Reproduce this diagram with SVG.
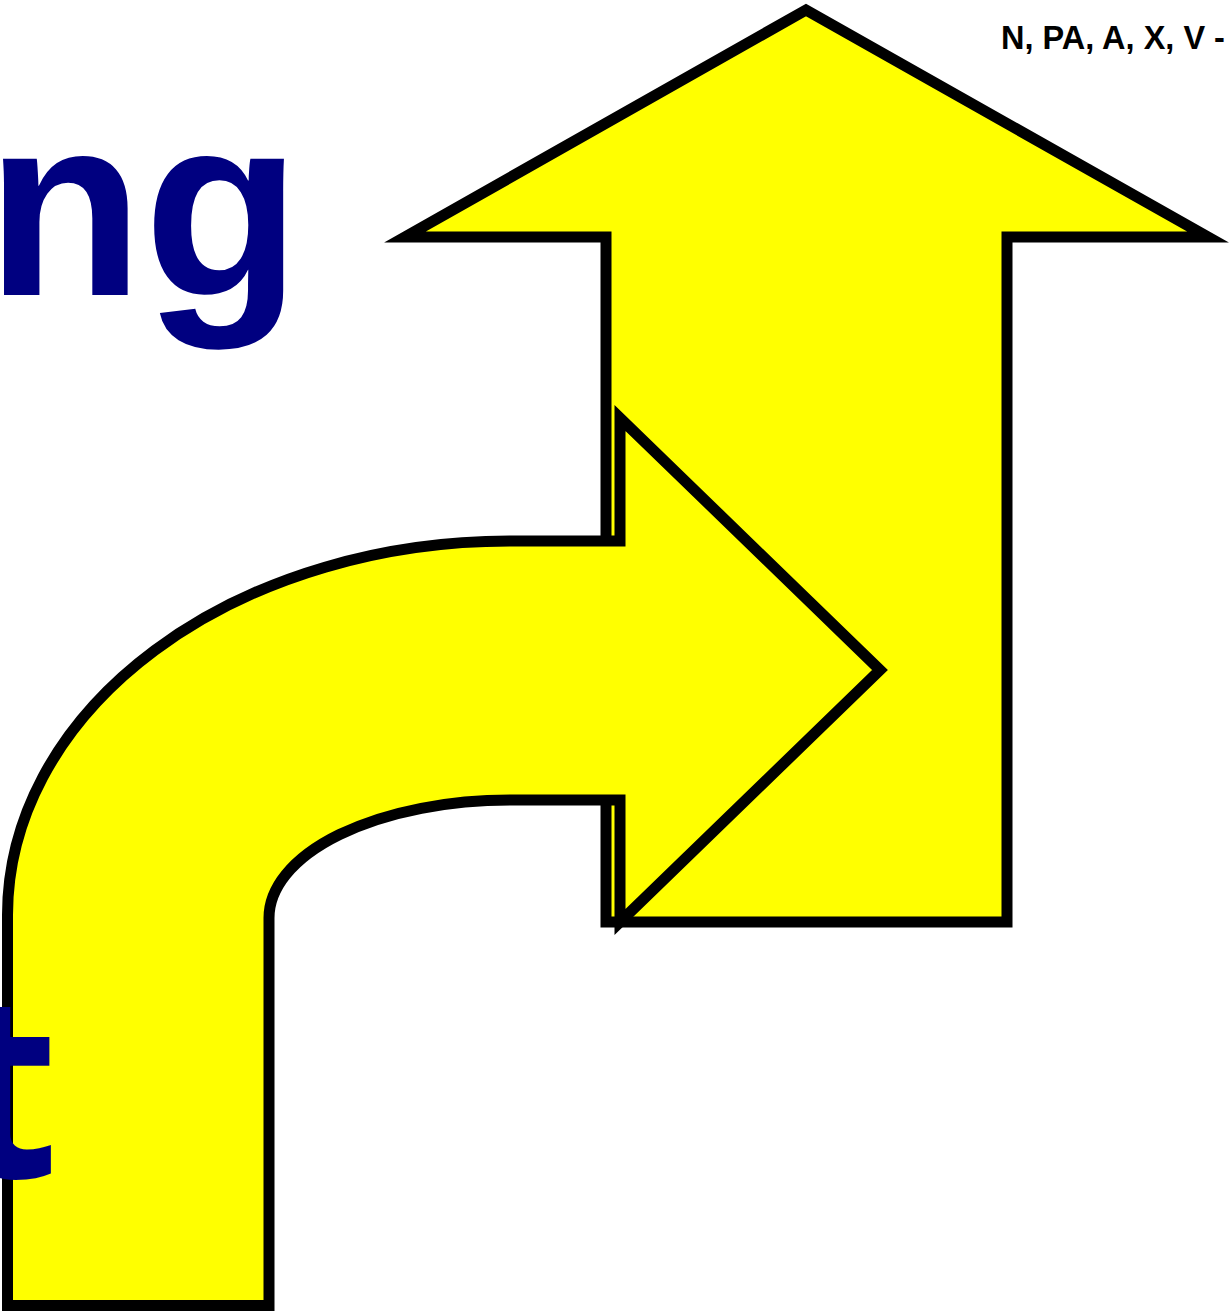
<svg xmlns="http://www.w3.org/2000/svg" width="1232" height="1311" viewBox="0 0 1232 1311">
<style>
.arrow{fill:#ffff00;stroke:#000;stroke-width:11;stroke-linejoin:miter;stroke-miterlimit:10}
.big{font-family:"Liberation Sans",Arial,sans-serif;font-weight:bold;fill:#000080}
.t{font-family:"Open Sans","Liberation Sans",sans-serif;font-weight:bold;fill:#000080}
.small{font-family:"Liberation Sans",Arial,sans-serif;font-weight:bold;fill:#000}
</style>
<rect width="1232" height="1311" fill="#fff"/>
<g id="title-ng"><text class="big" x="-14" y="295" font-size="258">ng</text></g>
<g id="up-arrow"><polygon class="arrow" points="806,10 1208,237 1007,237 1007,922 606,922 606,237 405,237"/></g>
<g id="turn-arrow"><path class="arrow" d="M7.5,1305.5 L7.5,915 A502,374 0 0 1 510,541 L620,541 L620,418 L880,670 L620,922 L620,800 L510,800 A241,118 0 0 0 269,918 L269,1305.5 Z"/></g>
<g id="label-t"><text class="t" x="-52" y="1177" font-size="256">t</text></g>
<g id="header"><text class="small" x="1001" y="49" font-size="32.5">N, PA, A, X, V -</text></g>
<g id="connectors"></g>
</svg>
